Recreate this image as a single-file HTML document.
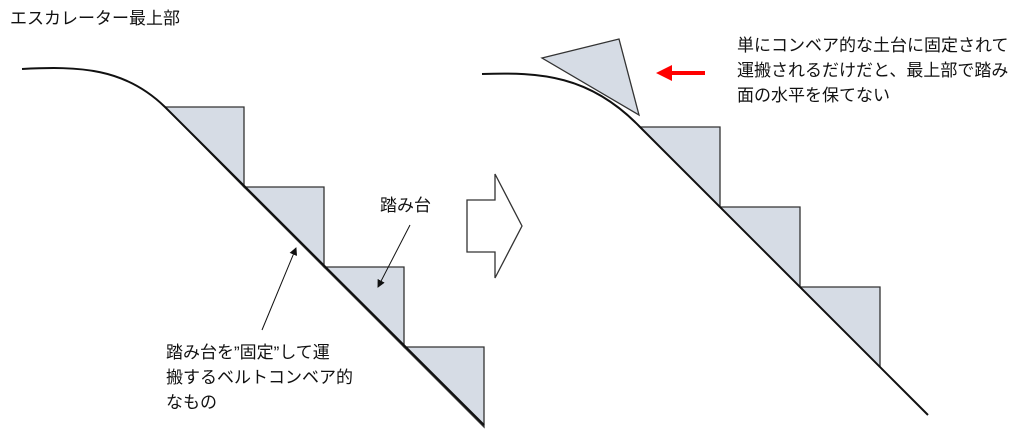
<!DOCTYPE html>
<html><head><meta charset="utf-8"><style>
body{margin:0;background:#fff;width:1024px;height:429px;overflow:hidden;font-family:"Liberation Sans","Noto Sans CJK JP",sans-serif;}
.t{position:absolute;font-size:17px;color:#111;line-height:25px;white-space:nowrap}
</style></head><body>
<svg width="1024" height="429" style="position:absolute;left:0;top:0">
<defs><marker id="a" markerWidth="8" markerHeight="8" refX="7" refY="4" orient="auto" markerUnits="userSpaceOnUse"><path d="M0,0 L8,4 L0,8z" fill="#111"/></marker></defs>
<g fill="#d6dce5" stroke="#333" stroke-width="1.3">
<path d="M165,107 H244 V187z"/><path d="M244,187 H324 V267z"/><path d="M324,267 H404 V347z"/><path d="M404,347 H484 V427z"/>
<path d="M640,127 H720 V207z"/><path d="M720,207 H800 V287z"/><path d="M800,287 H880 V367z"/>
<path d="M542,58 L619,39 L639,115z"/>
</g>
<path d="M22,69 C80,66 125,68 165,107 L484,425" fill="none" stroke="#111" stroke-width="2"/>
<path d="M482,74 C540,72 590,75 640,127 L928,415" fill="none" stroke="#111" stroke-width="2"/>
<path d="M467,200 H495 V174 L522,226 L495,278 V252 H467z" fill="#fff" stroke="#333" stroke-width="1.3"/>
<line x1="410" y1="225" x2="378" y2="287" stroke="#111" stroke-width="1" marker-end="url(#a)"/>
<line x1="262" y1="330" x2="296" y2="248" stroke="#111" stroke-width="1" marker-end="url(#a)"/>
<line x1="705" y1="73" x2="668" y2="73" stroke="#f00" stroke-width="4"/>
<path d="M656,73 L672,65 L672,81z" fill="#f00"/>
</svg>
<div class="t" style="left:10px;top:6px">エスカレーター最上部</div>
<div class="t" style="left:380px;top:193px">踏み台</div>
<div class="t" style="left:166px;top:340px">踏み台を”固定”して運<br>搬するベルトコンベア的<br>なもの</div>
<div class="t" style="left:737px;top:33px">単にコンベア的な土台に固定されて<br>運搬されるだけだと、最上部で踏み<br>面の水平を保てない</div>
</body></html>
